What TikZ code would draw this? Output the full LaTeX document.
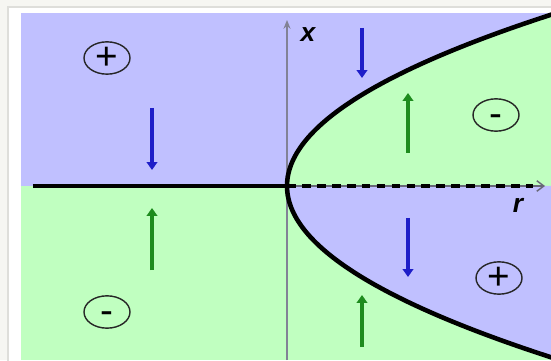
\documentclass[tikz,border=0pt]{standalone}
\usepackage{fontspec}
\setmainfont{Liberation Sans}
\usepackage{xcolor}
\usepackage{tikz}
\usetikzlibrary{shapes, arrows.meta, positioning, calc}
\definecolor{fieldblue}{RGB}{192, 192, 255}
\definecolor{fieldgreen}{RGB}{192, 255, 192}
\definecolor{flowblue}{RGB}{30, 30, 200}
\definecolor{flowgreen}{RGB}{30, 140, 30}
\definecolor{axisgray}{RGB}{130, 130, 150}
\definecolor{framegray}{RGB}{222, 222, 218}
\definecolor{pagegray}{RGB}{246, 246, 242}

\begin{document}
\begin{tikzpicture}[scale=0.2, thick,
    ring/.style={ellipse, draw=black!85, line width=0.8pt, minimum width=9.2mm, minimum height=6.2mm,
                 inner sep=0pt, text height=13pt, text depth=0pt, font=\fontsize{22}{22}\selectfont},
    downflow/.style={flowblue, line width=2.2pt, -{Triangle[length=4.5pt, width=6pt]}},
    upflow/.style={flowgreen, line width=2.2pt, -{Triangle[length=4.5pt, width=6pt]}},
    axislabel/.style={font=\fontsize{15}{15}\selectfont\bfseries\itshape, inner sep=0pt}]

    \useasboundingbox (-28.7,-17.4) rectangle (26.4,18.6);

    % Page frame around the panel
    \fill[pagegray] (-28.7,-17.4) rectangle (26.4,18.6);
    \filldraw[fill=white, draw=framegray] (-27.9,-17.8) rectangle (26.8,17.9);

    % Panel corners and origin
    \coordinate (SW) at (-26.6,-17.4);
    \coordinate (NE) at (26.4,17.3);
    \coordinate (O) at (0,0);

    \begin{scope}
        \clip (SW) rectangle (NE);

        % Background halves
        \fill[fieldblue] (-26.6,0) rectangle (26.4,17.3);
        \fill[fieldgreen] (-26.6,-17.4) rectangle (26.4,0);

        % Inside of the parabola (colours swapped)
        \fill[fieldgreen] plot[domain=0:17.8, samples=40] ({0.09*\x*\x},\x) -- (30,17.8) -- (30,0) -- cycle;
        \fill[fieldblue] plot[domain=0:-17.8, samples=40] ({0.09*\x*\x},\x) -- (30,-17.8) -- (30,0) -- cycle;

        % Axes
        \draw[axisgray, line width=1.4pt, -{Stealth[length=5pt, width=4pt]}] (0,-17.4) -- (0,16.6);
        \draw[axisgray!80!black, line width=0.8pt, -{Straight Barb[length=4pt, width=6pt]}] (-25.4,0) -- (25.8,0);

        % Boundary: solid on the left, dashed on the right
        \draw[line width=2.6pt] (-25.4,0) -- (O);
        \draw[line width=2pt, dash pattern=on 5pt off 3.5pt] (O) -- (24.6,0);

        % Parabola
        \draw[line width=2.6pt] plot[domain=-17.8:17.8, samples=60, smooth] ({0.09*\x*\x},\x);
    \end{scope}

    % Axis labels
    \node[axislabel] (xlab) at (2.1,15.1) {x};
    \node[axislabel] (rlab) at (23.1,-1.9) {r};

    % Sign markers
    \node[ring] (plusNW) at (-18,12.8) {+};
    \node[ring] (minusNE) at (20.9,7.1) {-};
    \node[ring] (minusSW) at (-18,-12.6) {-};
    \node[ring] (plusSE) at (21.2,-9.2) {+};

    % Flow arrows
    \foreach \name/\px/\ya/\yb in {a/-13.5/7.8/1.6, b/7.5/15.8/10.8, c/12.1/-3.2/-9.1} {
        \coordinate (down\name top) at (\px,\ya);
        \coordinate (down\name tip) at (\px,\yb);
        \draw[downflow] (down\name top) -- (down\name tip);
    }
    \foreach \name/\px/\ya/\yb in {a/12.1/3.3/9.3, b/-13.5/-8.4/-2.2, c/7.5/-16.1/-10.9} {
        \coordinate (up\name foot) at (\px,\ya);
        \coordinate (up\name tip) at (\px,\yb);
        \draw[upflow] (up\name foot) -- (up\name tip);
    }
\end{tikzpicture}
\end{document}
